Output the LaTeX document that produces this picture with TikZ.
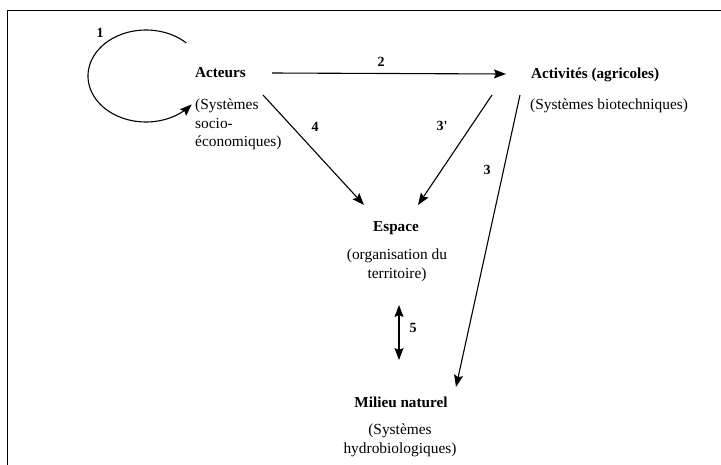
\documentclass[tikz,border=0pt]{standalone}
\usepackage{fontspec}
\setmainfont{Liberation Serif}
\usetikzlibrary{arrows.meta}
\begin{document}
\begin{tikzpicture}[x=1pt,y=-1pt,
  txt/.style={inner sep=0pt, font=\fontsize{15.4}{18.5}\selectfont},
  ttl/.style={inner sep=0pt, font=\fontsize{15.2}{18.5}\selectfont\bfseries},
  num/.style={inner sep=0pt, font=\fontsize{14}{16}\selectfont\bfseries},
  conn/.style={line width=1.1pt, -{Stealth[length=12pt,width=9pt,inset=2pt]}},
  conn2/.style={line width=1.1pt, {Stealth[length=12pt,width=9pt,inset=2pt]}-{Stealth[length=12pt,width=9pt,inset=2pt]}}
]
\useasboundingbox (0,0) rectangle (721,464);
\draw[line width=0.9pt] (7,10) rectangle (760,500);

\node[ttl, anchor=west] (act) at (195,73) {Acteurs};
\node[txt, anchor=north west, align=left] (acts) at (195,99) {(Systèmes\\socio-\\économiques)};
\node[ttl, anchor=west] (acti) at (531,75) {Activités (agricoles)};
\node[txt, anchor=west] (actis) at (530,106) {(Systèmes biotechniques)};
\node[ttl] (esp) at (396,228) {Espace};
\node[txt, align=center, anchor=north] (esps) at (397,249) {(organisation du\\territoire)};
\node[ttl] (mil) at (401,402) {Milieu naturel};
\node[txt, align=center, anchor=north] (mils) at (400,424) {(Systèmes\\hydrobiologiques)};

\coordinate (a2s) at (272,73);
\coordinate (a2e) at (506,74);
\coordinate (a4s) at (263,95);
\coordinate (a4e) at (364,205);
\coordinate (a3ps) at (492,95);
\coordinate (a3pe) at (418,205);
\coordinate (a3s) at (520,95);
\coordinate (a3e) at (456,387);
\coordinate (a5s) at (399,305);
\coordinate (a5e) at (399,360);

\draw[conn] plot[domain=46:322, samples=80] ({146+58*cos(\x)}, {76-46*sin(\x)});
\draw[conn] (a2s) -- (a2e);
\draw[conn] (a4s) -- (a4e);
\draw[conn] (a3ps) -- (a3pe);
\draw[conn] (a3s) -- (a3e);
\draw[conn2] (a5s) -- (a5e);

\node[num] (n1) at (100,33) {1};
\node[num] (n2) at (381,62) {2};
\node[num] (n4) at (315,127) {4};
\node[num] (n3p) at (442,126) {3\textquotesingle};
\node[num] (n3) at (487,170) {3};
\node[num] (n5) at (413,328) {5};
\end{tikzpicture}
\end{document}
